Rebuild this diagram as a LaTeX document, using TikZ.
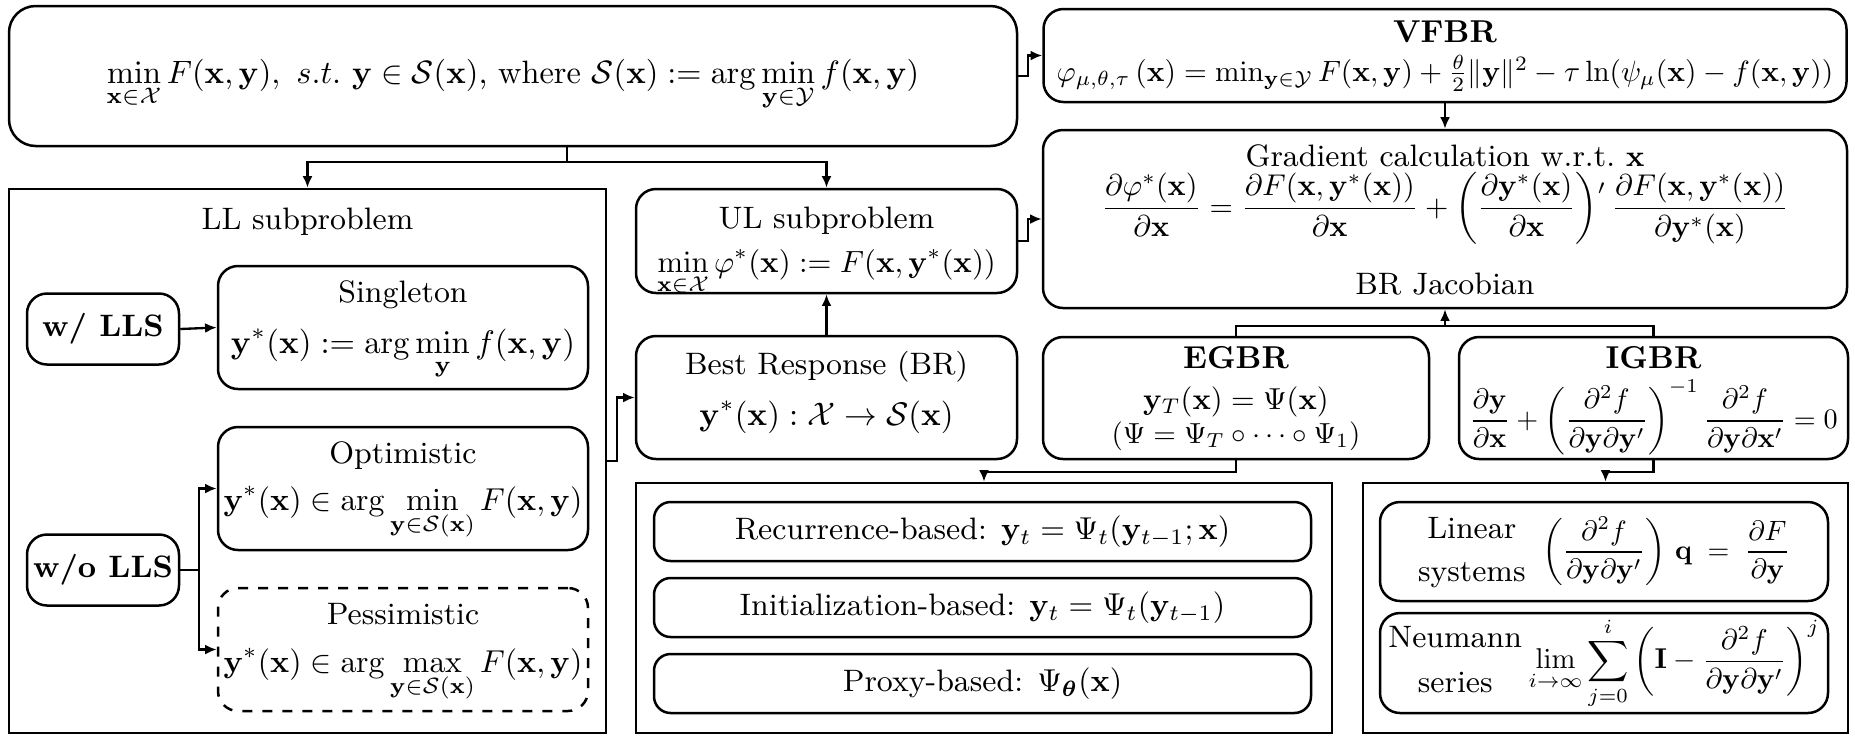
\documentclass[tikz,border=0pt]{standalone}
\usepackage{amsmath,amssymb,bm,graphicx}
\usetikzlibrary{arrows.meta,calc}
\newcommand{\fs}[1]{\fontsize{#1}{11.2}\selectfont}
\newcommand{\sm}[2]{\scalebox{#1}{\fontsize{10}{12}\selectfont$\displaystyle #2$}}
\begin{document}
\begin{tikzpicture}[x=0.3pt,y=-0.3pt,
  every node/.style={font=\fs{9.3}},
  box/.style={draw,line width=0.75pt,rounded corners=6pt,inner sep=0pt},
  cont/.style={draw,line width=0.75pt,inner sep=0pt},
  txt/.style={inner sep=0pt,anchor=base,align=center},
  arr/.style={line width=0.7pt,-{Latex[length=3.5pt,width=3pt]}},
  ln/.style={line width=0.7pt},
]
\useasboundingbox (0,0) rectangle (1855,737);
% containers
\node[cont,minimum width=179.1pt,minimum height=163.2pt] (ll) at (307.5,461) {};
\node[txt] (llt) at (307.5,229) {LL subproblem};
\node[cont,minimum width=208.8pt,minimum height=75pt] (egc) at (984,608) {};
\node[cont,minimum width=145.5pt,minimum height=75pt] (igc) at (1605.5,608) {};
% top
\node[box,rounded corners=8pt,minimum width=302.4pt,minimum height=42pt] (top) at (513,76) {};
\node[txt] (topf) at (513,83)
 {\scalebox{0.97}{\fontsize{10}{12}\selectfont$\displaystyle\min_{\mathbf{x}\in\mathcal{X}} F(\mathbf{x},\mathbf{y}),\ s.t.\ \mathbf{y}\in\mathcal{S}(\mathbf{x})$, where $\displaystyle\mathcal{S}(\mathbf{x}) := \arg\min_{\mathbf{y}\in\mathcal{Y}} f(\mathbf{x},\mathbf{y})$}};
% VFBR
\node[box,minimum width=240.9pt,minimum height=27.9pt] (vfbr) at (1445,55.5) {};
\node[txt,font=\fs{9.5}] (vfbrt) at (1445,42) {\textbf{VFBR}};
\node[txt] (vfbrf) at (1445,81) {\sm{0.88}{\textstyle\varphi_{\mu,\theta,\tau}\left(\mathbf{x}\right) = \min_{\mathbf{y}\in\mathcal{Y}} F(\mathbf{x},\mathbf{y}) + \frac{\theta}{2}\|\mathbf{y}\|^2 - \tau\ln(\psi_\mu(\mathbf{x}) - f(\mathbf{x},\mathbf{y}))}};
% Gradient
\node[box,minimum width=241.2pt,minimum height=53.4pt] (grad) at (1445,219) {};
\node[txt] (gradt) at (1445,166) {Gradient calculation w.r.t.\ $\mathbf{x}$};
\node[txt] (gradf) at (1445,216)
 {\sm{0.9}{\frac{\partial\varphi^*(\mathbf{x})}{\partial\mathbf{x}} = \frac{\partial F(\mathbf{x},\mathbf{y}^*(\mathbf{x}))}{\partial \mathbf{x}} + \left(\frac{\partial\mathbf{y}^*(\mathbf{x})}{\partial\mathbf{x}}\right)^{\raisebox{-5pt}{$\scriptstyle\prime$}} \frac{\partial F(\mathbf{x},\mathbf{y}^*(\mathbf{x}))}{\partial\mathbf{y}^*(\mathbf{x})}}};
\node[txt] (gradj) at (1445,294) {BR Jacobian};
% LL inner
\node[box,minimum width=45.6pt,minimum height=21.3pt] (wlls) at (103,329) {\textbf{w/ LLS}};
\node[box,minimum width=45.6pt,minimum height=21.3pt] (wolls) at (103,570) {\textbf{w/o LLS}};
\node[box,minimum width=111pt,minimum height=36.9pt] (single) at (403,327.5) {};
\node[txt] (singlet) at (403,302) {Singleton};
\node[txt] (singlef) at (403,353) {\sm{0.98}{\mathbf{y}^*(\mathbf{x}) := \arg\min_{\mathbf{y}} f(\mathbf{x},\mathbf{y})}};
\node[box,minimum width=111pt,minimum height=36.9pt] (opt) at (403,488.5) {};
\node[txt] (optt) at (403,463) {Optimistic};
\node[txt] (optf) at (403,510) {\sm{0.95}{\mathbf{y}^*(\mathbf{x}) \in \arg\min_{\mathbf{y}\in\mathcal{S}(\mathbf{x})} F(\mathbf{x},\mathbf{y})}};
\node[box,dashed,minimum width=111pt,minimum height=36.9pt] (pess) at (403,649.5) {};
\node[txt] (pesst) at (403,624) {Pessimistic};
\node[txt] (pessf) at (403,672) {\sm{0.95}{\mathbf{y}^*(\mathbf{x}) \in \arg\max_{\mathbf{y}\in\mathcal{S}(\mathbf{x})} F(\mathbf{x},\mathbf{y})}};
% middle column
\node[box,minimum width=114.3pt,minimum height=31.2pt] (ul) at (826.5,241) {};
\node[txt] (ult) at (826.5,228) {UL subproblem};
\node[txt] (ulf) at (826.5,272) {\sm{0.92}{\min_{\mathbf{x}\in\mathcal{X}} \varphi^*(\mathbf{x}) := F(\mathbf{x},\mathbf{y}^*(\mathbf{x}))}};
\node[box,minimum width=114.3pt,minimum height=36.9pt] (br) at (826.5,397.5) {};
\node[txt] (brt) at (826.5,374) {Best Response (BR)};
\node[txt] (brf) at (826.5,425) {\sm{0.98}{\mathbf{y}^*(\mathbf{x}) : \mathcal{X} \to \mathcal{S}(\mathbf{x})}};
% EGBR / IGBR
\node[box,minimum width=115.8pt,minimum height=36.6pt] (egbr) at (1236,398) {};
\node[txt,font=\fs{9.5}] (egbrt) at (1236,368) {\textbf{EGBR}};
\node[txt] (egbrf) at (1236,409) {\sm{0.91}{\mathbf{y}_T(\mathbf{x}) = \Psi(\mathbf{x})}};
\node[txt] (egbrg) at (1236,443) {\sm{0.87}{(\Psi = \Psi_T\circ\cdots\circ\Psi_1)}};
\node[box,minimum width=116.7pt,minimum height=36.6pt] (igbr) at (1653.5,398) {};
\node[txt,font=\fs{9.5}] (igbrt) at (1653.5,368) {\textbf{IGBR}};
\node[txt] (igbrf) at (1653.5,428) {\sm{0.845}{\frac{\partial\mathbf{y}}{\partial\mathbf{x}} + \left(\frac{\partial^2 f}{\partial\mathbf{y}\partial\mathbf{y}'}\right)^{-1} \frac{\partial^2 f}{\partial\mathbf{y}\partial\mathbf{x}'} = 0}};
% EGBR container
\node[box,rounded corners=5pt,minimum width=197.1pt,minimum height=17.7pt] (rec) at (982.5,531.5)
 {Recurrence-based: \sm{0.95}{\textstyle\mathbf{y}_t = \Psi_t(\mathbf{y}_{t-1};\mathbf{x})}};
\node[box,rounded corners=5pt,minimum width=197.1pt,minimum height=17.7pt] (init) at (982.5,607.5)
 {Initialization-based: \sm{0.95}{\textstyle\mathbf{y}_t = \Psi_t(\mathbf{y}_{t-1})}};
\node[box,rounded corners=5pt,minimum width=197.1pt,minimum height=17.7pt] (proxy) at (982.5,683.5)
 {Proxy-based: \sm{0.95}{\textstyle\Psi_{\bm{\theta}}(\mathbf{x})}};
% IGBR container
\node[box,font=\fontsize{9.3}{12.8}\selectfont,minimum width=134.4pt,minimum height=29.7pt] (lin) at (1604,551.5)
 {\begin{tabular}{@{}c@{}}Linear\\ systems\end{tabular}\hspace{5pt}\sm{0.84}{\left(\frac{\partial^2 f}{\partial\mathbf{y}\partial\mathbf{y}'}\right)\,\mathbf{q} \;=\; \frac{\partial F}{\partial\mathbf{y}}}};
\node[box,font=\fontsize{9.3}{13.5}\selectfont,minimum width=134.4pt,minimum height=30pt] (neu) at (1604,663)
 {\begin{tabular}{@{}c@{}}Neumann\\ series\end{tabular}\hspace{2pt}\sm{0.86}{\lim_{i\to\infty}\sum_{j=0}^{i}\left(\mathbf{I} - \frac{\partial^2 f}{\partial\mathbf{y}\partial\mathbf{y}'}\right)^{j}}};
% connectors
\coordinate (j1) at (567,162);
\draw[ln] (top.south -| j1) -- (j1);
\draw[arr] (j1) -| (ll.north);
\draw[arr] (j1) -| (ul.north);
\draw[arr] (top.east) -- ++(10,0) |- (vfbr.west);
\draw[arr] (vfbr.south) -- (grad.north);
\draw[arr] (ul.east) -- ++(10,0) |- (grad.west);
\draw[arr] (br.north) -- (ul.south);
\draw[arr] (ll.east) -- ++(10,0) |- (br.west);
\coordinate (j2) at ($(egbr.north)+(0,-10)$);
\draw[ln] (egbr.north) -- (j2) -| (igbr.north);
\draw[arr] (grad.south |- j2) -- (grad.south);
\draw[arr] (egbr.south) -- ++(0,12) -| (egc.north);
\draw[arr] (igbr.south) -- ++(0,12) -| (igc.north);
\draw[arr] (wlls.east) -- (single.west);
\coordinate (j3) at ($(wolls.east)+(19,0)$);
\draw[ln] (wolls.east) -- (j3);
\draw[arr] (j3) |- (opt.west);
\draw[arr] (j3) |- (pess.west);
\end{tikzpicture}
\end{document}
